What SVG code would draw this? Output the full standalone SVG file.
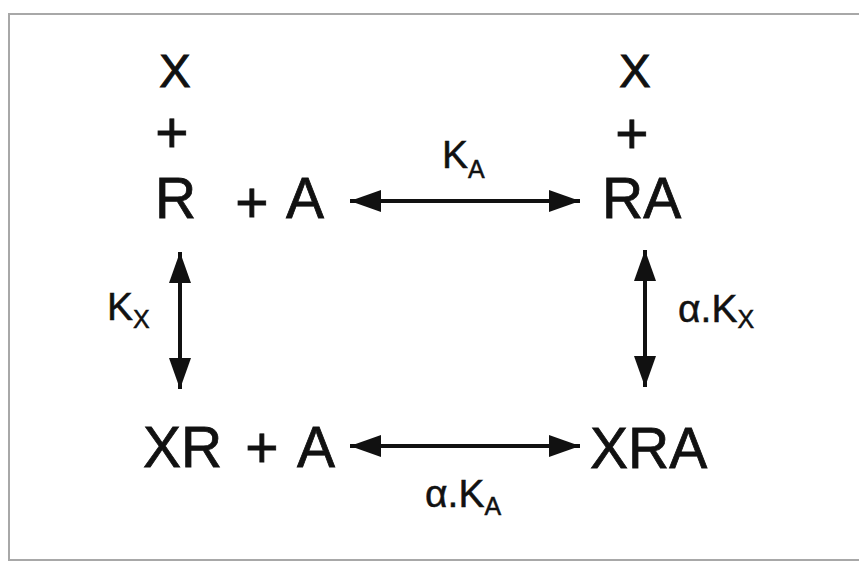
<svg xmlns="http://www.w3.org/2000/svg" width="859" height="563" viewBox="0 0 859 563">
  <defs>
    <marker id="ah" markerUnits="userSpaceOnUse" markerWidth="32" markerHeight="22" viewBox="0 0 32 22" refX="31" refY="11" orient="auto-start-reverse">
      <path d="M0,0 L31,11 L0,22 Z" fill="#111"/>
    </marker>
  </defs>
  <style>
    .big { font-family: "Liberation Sans", Arial, sans-serif; font-size: 57px; fill: #111; stroke: #111; stroke-width: 0.8; }
    .mid { font-family: "Liberation Sans", Arial, sans-serif; font-size: 47px; fill: #111; stroke: #111; stroke-width: 1; }
    .lbl { font-family: "Liberation Sans", Arial, sans-serif; font-size: 39px; fill: #111; stroke: #111; stroke-width: 0.5; }
    .sub { font-size: 25px; }
    .conn { stroke: #111; stroke-width: 4; fill: none; marker-start: url(#ah); marker-end: url(#ah); }
  </style>
  <rect x="0" y="0" width="859" height="563" fill="#ffffff"/>
  <rect x="9" y="14" width="870" height="546" fill="#ffffff" stroke="#a8a8a8" stroke-width="2"/>

  <g id="node-R-A">
    <text class="mid" x="175" y="87" text-anchor="middle">X</text>
    <text class="big" x="172" y="152" text-anchor="middle">+</text>
    <text class="big" x="155" y="218">R</text>
    <text class="big" x="252" y="222" text-anchor="middle">+</text>
    <text class="big" x="286" y="218">A</text>
  </g>
  <g id="node-RA">
    <text class="mid" x="635" y="87" text-anchor="middle">X</text>
    <text class="big" x="632" y="153" text-anchor="middle">+</text>
    <text class="big" x="602" y="218">RA</text>
  </g>
  <g id="node-XR-A">
    <text class="big" x="143" y="467">XR</text>
    <text class="big" x="262" y="467" text-anchor="middle">+</text>
    <text class="big" x="297" y="467">A</text>
  </g>
  <g id="node-XRA">
    <text class="big" x="590" y="468">XRA</text>
  </g>

  <g id="connectors">
    <line class="conn" x1="350" y1="201" x2="580" y2="201"/>
    <line class="conn" x1="350" y1="446" x2="580" y2="446"/>
    <line class="conn" x1="180" y1="252" x2="180" y2="389"/>
    <line class="conn" x1="645" y1="250" x2="645" y2="387"/>
  </g>

  <g id="labels">
    <text class="lbl" x="442" y="168">K<tspan class="sub" dy="10">A</tspan></text>
    <text class="lbl" x="107" y="320">K<tspan class="sub" dy="8">X</tspan></text>
    <text class="lbl" x="678" y="322">α.K<tspan class="sub" dy="6">X</tspan></text>
    <text class="lbl" x="425" y="507">α.K<tspan class="sub" dy="8">A</tspan></text>
  </g>
</svg>
